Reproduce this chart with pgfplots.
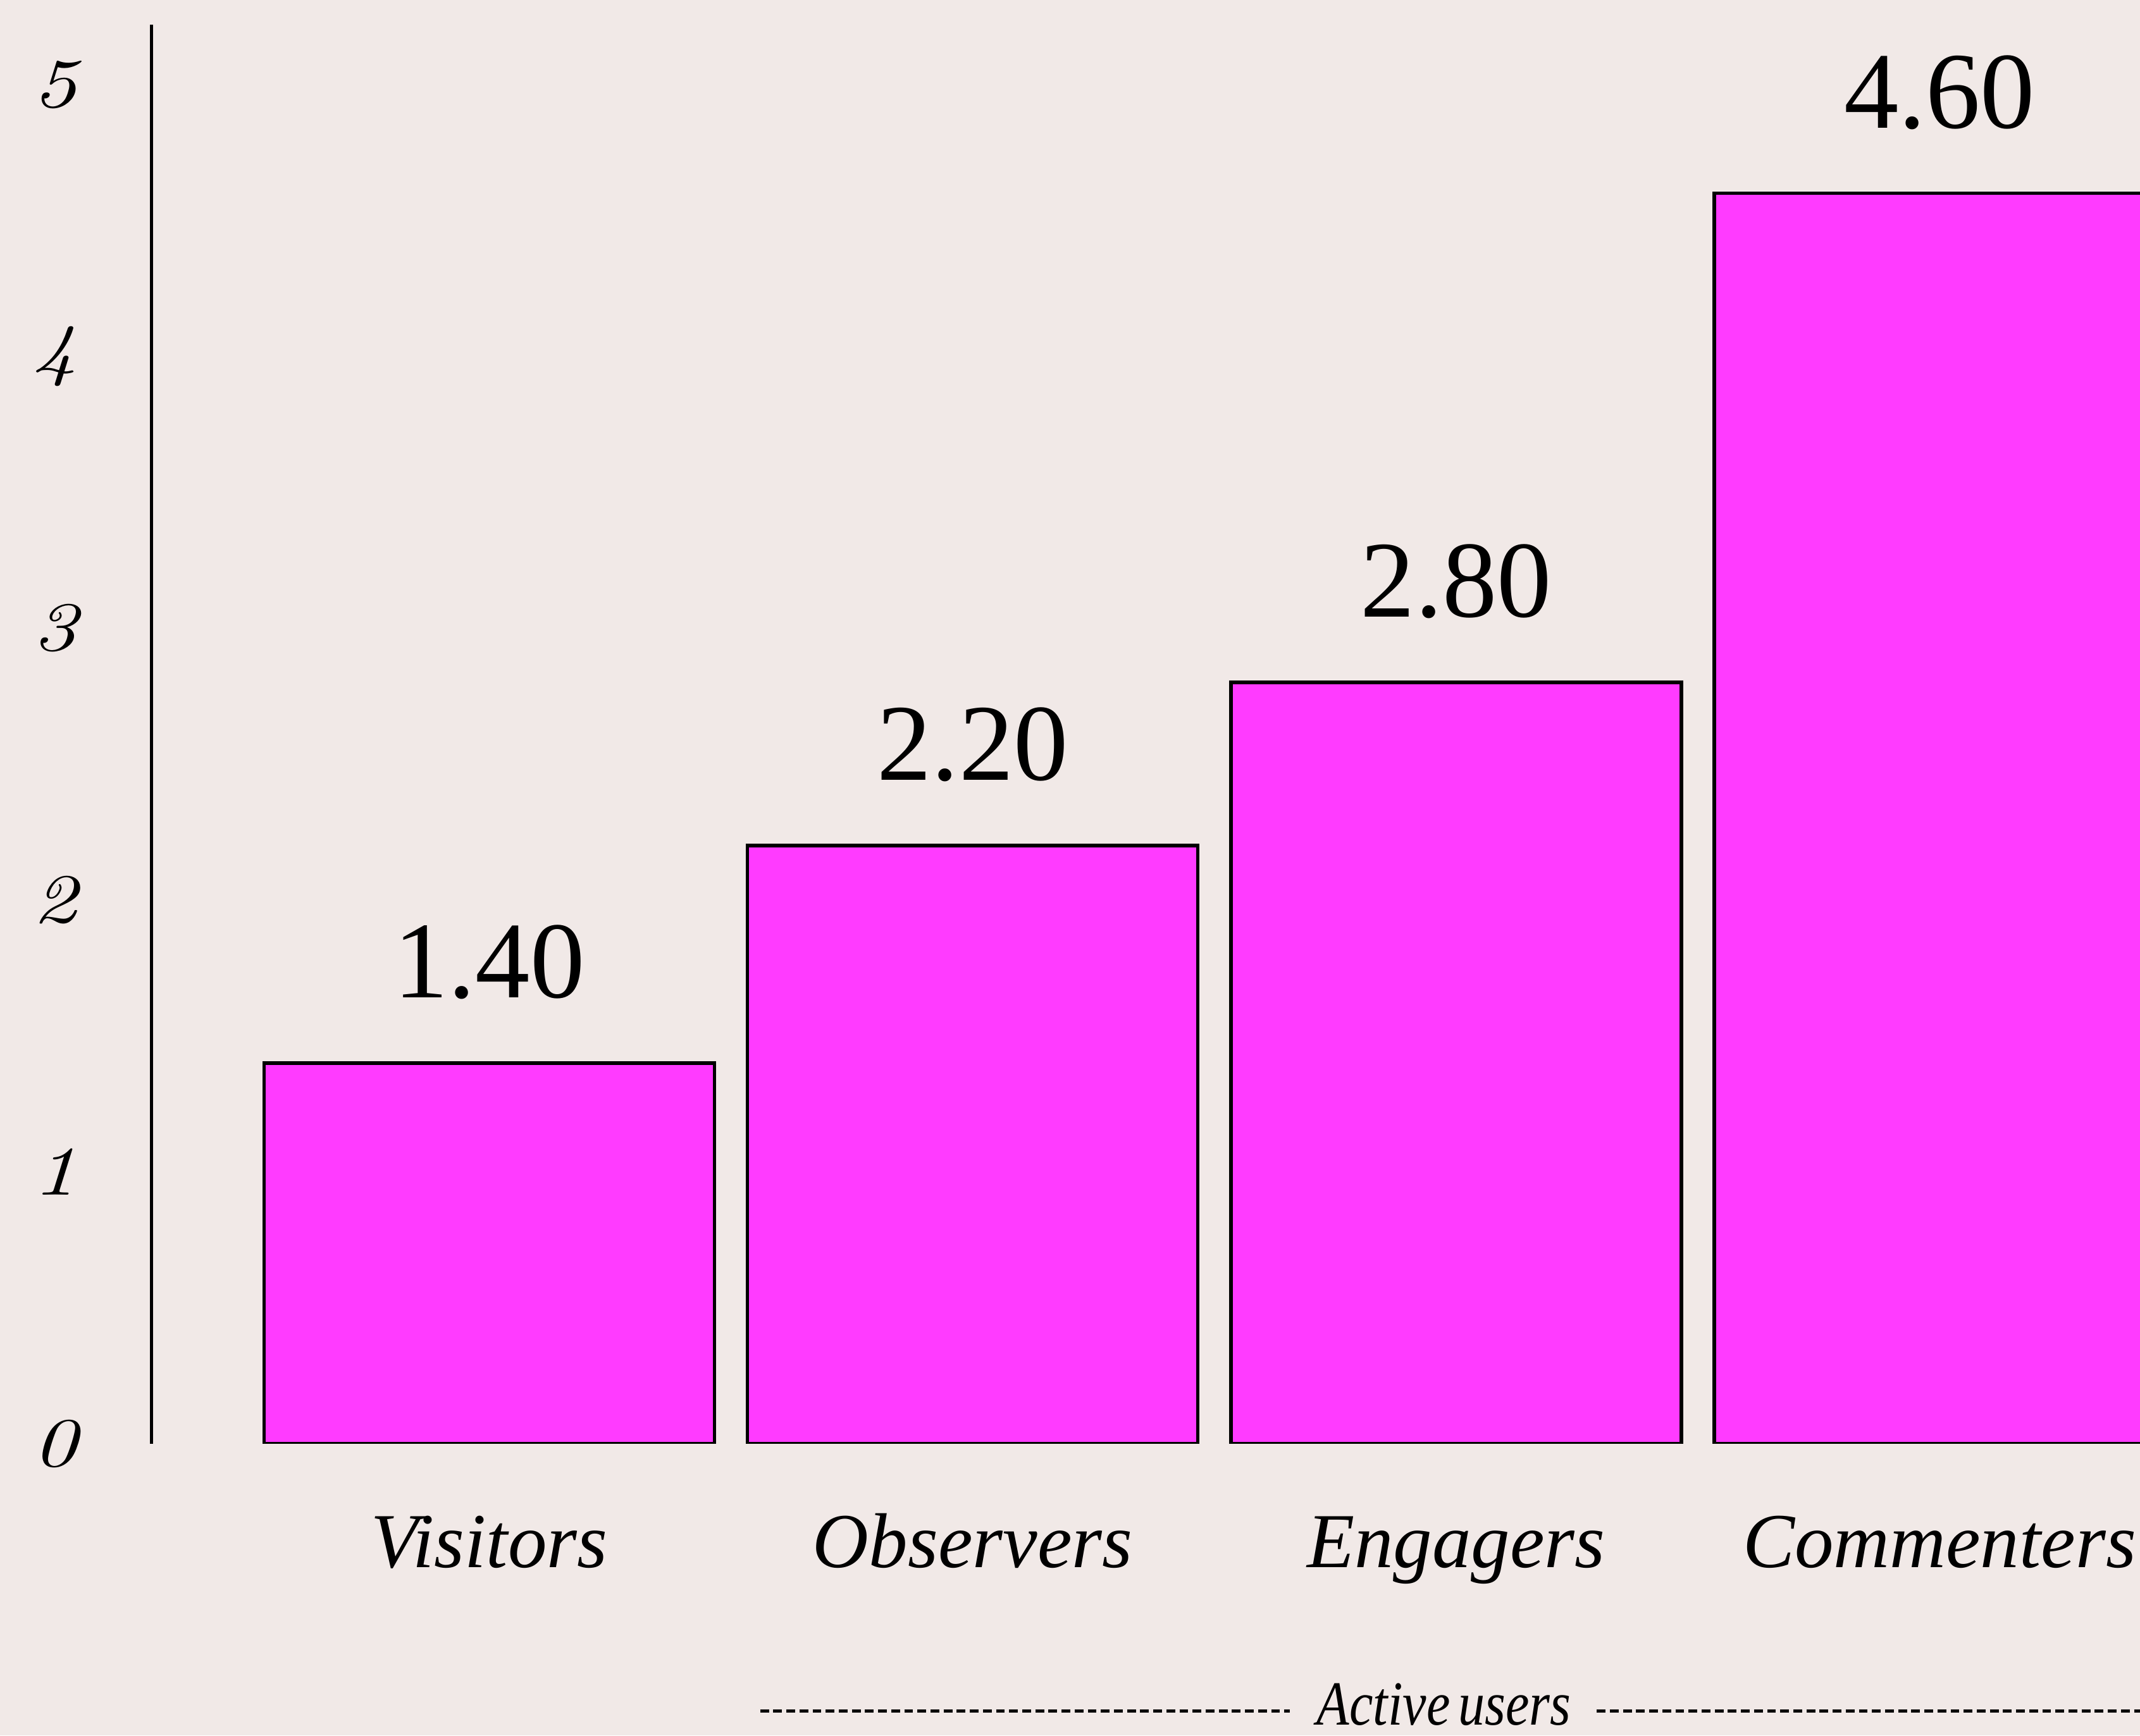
\documentclass[border=0pt]{standalone}
\usepackage{fontspec}
\usepackage{graphicx}
\usepackage{pgfplots}
\pgfplotsset{compat=1.18}
\newfontfamily\libserif{Liberation Serif}
\newfontfamily\lmit{lmroman10-italic.otf}
\definecolor{bg}{HTML}{F1E9E7}
\definecolor{mag}{HTML}{FF3BFF}
\newcommand{\tl}[1]{\scalebox{1.25}[1]{#1}}
\begin{document}
\begin{tikzpicture}
\useasboundingbox (0,0) rectangle (784pt,636pt);
\fill[bg] (0,0) rectangle (784pt,636pt);
\clip (0,0) rectangle (784pt,636pt);
\begin{axis}[
  at={(179.25pt,107pt)}, anchor=origin,
  x=177.1pt, y=99.6pt,
  xmin=-0.6988, xmax=3.45, ymin=0, ymax=5.22,
  axis lines*=left,
  x axis line style={draw=none},
  y axis line style={line width=1.15pt, black},
  major tick length=0pt,
  xtick={0,1,2,3},
  xticklabels={Visitors,Observers,Engagers,Commenters},
  xticklabel style={font=\libserif\itshape\fontsize{28.5pt}{34pt}\selectfont, anchor=base, yshift=-45.5pt},
  ytick={0,1,2,3,4,5},
  yticklabels={\tl{0},\tl{1},\tl{2},\tl{3},\tl{4},\tl{5}},
  yticklabel style={font=\lmit\fontsize{25.5pt}{30pt}\selectfont, anchor=center, xshift=-35.5pt},
  ybar, bar width=165pt,
  nodes near coords={\pgfmathprintnumber[fixed,fixed zerofill,precision=2,assume math mode=true]{\pgfplotspointmeta}},
  every node near coord/.append style={font=\libserif\fontsize{40pt}{48pt}\selectfont, anchor=base, yshift=24pt, black},
]
\addplot[fill=mag, draw=black, line width=1.3pt] coordinates {(0,1.40) (1,2.20) (2,2.80) (3,4.60)};
\end{axis}
\node[anchor=base, inner sep=0pt] at (529pt,4pt) {\scalebox{0.85}[1]{\libserif\itshape\fontsize{23pt}{28pt}\selectfont Active\hspace{0.15em}users}};
\draw[line width=1.1pt, dash pattern=on 3.2pt off 1.6pt] (278.5pt,9pt) -- (472.5pt,9pt);
\draw[line width=1.1pt, dash pattern=on 3.2pt off 1.6pt] (585pt,9pt) -- (790pt,9pt);
\end{tikzpicture}
\end{document}
